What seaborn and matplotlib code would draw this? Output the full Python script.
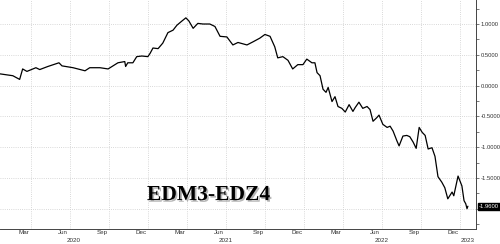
import matplotlib
matplotlib.use("Agg")
import matplotlib.pyplot as plt
import matplotlib.dates as mdates
import matplotlib.transforms as mtrans
import matplotlib.patheffects as pe
import seaborn as sns
import pandas as pd
import numpy as np

# ---- data ----
dates = [
    "2020-01-20", "2020-02-19", "2020-03-06", "2020-03-13", "2020-03-23", "2020-04-13",
    "2020-04-22", "2020-05-11", "2020-06-06", "2020-06-13", "2020-07-09", "2020-08-06",
    "2020-08-17", "2020-09-10", "2020-09-29", "2020-10-22", "2020-11-07", "2020-11-09",
    "2020-11-14", "2020-11-26", "2020-12-05", "2020-12-17", "2020-12-31", "2021-01-05",
    "2021-01-12", "2021-01-24", "2021-02-04", "2021-02-16", "2021-02-28", "2021-03-09",
    "2021-03-21", "2021-03-30", "2021-04-06", "2021-04-16", "2021-04-27", "2021-05-09",
    "2021-05-25", "2021-06-06", "2021-06-18", "2021-07-04", "2021-07-18", "2021-07-30",
    "2021-08-20", "2021-09-03", "2021-09-19", "2021-10-01", "2021-10-13", "2021-10-24",
    "2021-10-31", "2021-11-12", "2021-11-24", "2021-12-05", "2021-12-17", "2021-12-29",
    "2022-01-07", "2022-01-19", "2022-01-26", "2022-01-31", "2022-02-07", "2022-02-14",
    "2022-02-21", "2022-02-26", "2022-03-07", "2022-03-14", "2022-03-21", "2022-03-30",
    "2022-04-07", "2022-04-16", "2022-04-25", "2022-04-30", "2022-05-09", "2022-05-18",
    "2022-05-28", "2022-06-04", "2022-06-11", "2022-06-20", "2022-06-25", "2022-07-04",
    "2022-07-14", "2022-07-21", "2022-07-28", "2022-08-06", "2022-08-11", "2022-08-20",
    "2022-08-29", "2022-09-05", "2022-09-13", "2022-09-20", "2022-09-27", "2022-10-04",
    "2022-10-11", "2022-10-18", "2022-10-27", "2022-11-03", "2022-11-10", "2022-11-19",
    "2022-11-26", "2022-12-03", "2022-12-13", "2022-12-17", "2022-12-27", "2023-01-05",
    "2023-01-10", "2023-01-14", "2023-01-17", "2023-01-19",
]
values = [
    0.19, 0.16, 0.10, 0.27, 0.23, 0.29,
    0.26, 0.31, 0.37, 0.32, 0.29, 0.24,
    0.29, 0.29, 0.27, 0.37, 0.39, 0.31,
    0.37, 0.37, 0.47, 0.48, 0.47, 0.52,
    0.61, 0.60, 0.69, 0.86, 0.90, 0.98,
    1.05, 1.10, 1.05, 0.93, 1.01, 1.00,
    1.00, 0.96, 0.80, 0.79, 0.66, 0.70,
    0.66, 0.71, 0.77, 0.83, 0.80, 0.63,
    0.45, 0.47, 0.41, 0.27, 0.34, 0.34,
    0.43, 0.37, 0.37, 0.21, 0.16, -0.06,
    -0.11, -0.03, -0.26, -0.18, -0.34, -0.37,
    -0.43, -0.31, -0.42, -0.36, -0.27, -0.37,
    -0.34, -0.39, -0.58, -0.52, -0.48, -0.63,
    -0.68, -0.66, -0.74, -0.90, -0.98, -0.82,
    -0.81, -0.83, -0.92, -1.02, -0.68, -0.76,
    -0.81, -1.03, -1.01, -1.15, -1.48, -1.57,
    -1.66, -1.84, -1.73, -1.79, -1.47, -1.63,
    -1.87, -1.92, -2.00, -1.96,
]
title = "EDM3-EDZ4"
last_label = "-1.9600"
y_ticks = [-2.0, -1.5, -1.0, -0.5, 0.0, 0.5, 1.0]
month_labels = ["Mar", "Jun", "Sep", "Dec"]
years = [2020, 2021, 2022, 2023]

df = pd.DataFrame({"date": pd.to_datetime(dates), "value": values})

sns.set_style("white")
plt.rcParams["font.family"] = ["Liberation Sans", "DejaVu Sans"]

fig = plt.figure(figsize=(5.0, 2.44), dpi=100)
ax = fig.add_axes([0.0, 0.0615, 0.952, 0.9385])

sns.lineplot(data=df, x="date", y="value", ax=ax, color="black", linewidth=0.9)

xmin, xmax = pd.Timestamp("2020-01-20"), pd.Timestamp("2023-02-07")
ax.set_xlim(xmin, xmax)
ax.set_ylim(-2.33, 1.39)
ax.set_xlabel("")
ax.set_ylabel("")

# spines
for s in ["left", "top"]:
    ax.spines[s].set_visible(False)
for s in ["right", "bottom"]:
    ax.spines[s].set_visible(True)
    ax.spines[s].set_color("#444444")
    ax.spines[s].set_linewidth(0.7)

# y axis on right
ax.yaxis.tick_right()
ax.set_yticks(y_ticks)
ax.set_yticklabels(["" if t == -2.0 else f"{t:.4f}" for t in y_ticks])
ax.set_yticks(np.arange(-2.25, 1.3, 0.25), minor=True)
ax.tick_params(axis="y", which="both", direction="out", length=2, width=0.5,
               labelsize=4.2, pad=1.2, colors="#444444", labelcolor="#333333")

grid_kw = dict(color="#cccccc", linestyle=(0, (1, 1.6)), linewidth=0.6, zorder=0)
for t in y_ticks:
    ax.axhline(t, **grid_kw)
for q in pd.date_range("2020-04-01", "2023-01-01", freq="QS"):
    ax.axvline(q, **grid_kw)

# x ticks: year separators (major, long), month ticks (minor)
ax.xaxis.set_major_locator(mdates.YearLocator())
ax.xaxis.set_minor_locator(mdates.MonthLocator())
ax.xaxis.set_major_formatter(plt.NullFormatter())
ax.tick_params(axis="x", which="major", direction="out", length=15, width=0.5, colors="#666666")
ax.tick_params(axis="x", which="minor", direction="out", length=2.2, width=0.5, colors="#666666")

trans = mtrans.blended_transform_factory(ax.transData, fig.transFigure)
mon_num = {"Mar": 3, "Jun": 6, "Sep": 9, "Dec": 12}
for y in years:
    for m in month_labels:
        d = pd.Timestamp(year=y, month=mon_num[m], day=15)
        if xmin <= d <= xmax:
            ax.text(d, 0.046, m, transform=trans, ha="center", va="center",
                    fontsize=4.5, color="#333333", clip_on=False)
    start = max(pd.Timestamp(year=y, month=1, day=1), xmin)
    end = min(pd.Timestamp(year=y, month=12, day=31), xmax)
    mid = start + (end - start) / 2
    ax.text(mid, 0.016, str(y), transform=trans, ha="center", va="center",
            fontsize=4.5, color="#333333", clip_on=False)

# last value label box
ax.annotate(last_label, xy=(1.0, values[-1]), xycoords=("axes fraction", "data"),
            xytext=(2.0, 0), textcoords="offset points", ha="left", va="center",
            fontsize=4.2, color="white",
            bbox=dict(boxstyle="square,pad=0.2", fc="black", ec="black"),
            annotation_clip=False)

# title text with shadow
ax.text(0.437, 0.148, title, transform=ax.transAxes, ha="center", va="center",
        fontsize=15.5, fontweight="bold", family=["Liberation Serif", "DejaVu Serif"],
        color="black",
        path_effects=[pe.withSimplePatchShadow(offset=(1.2, -1.2), shadow_rgbFace="#888888", alpha=0.6)])

fig.savefig("out.png", dpi=100, facecolor="white")
